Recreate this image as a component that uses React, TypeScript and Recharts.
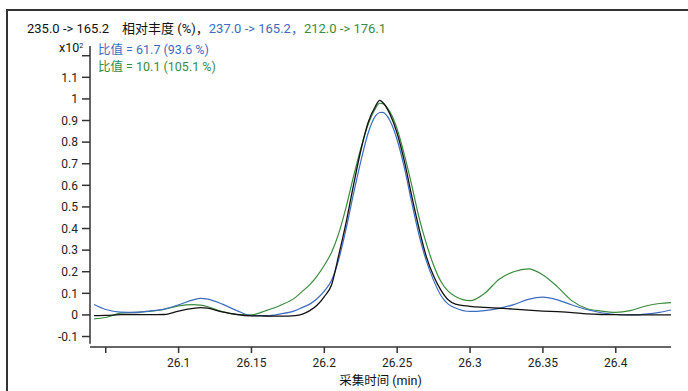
import { LineChart, Line, XAxis, YAxis, ReferenceLine } from 'recharts'

// retention time (min)
const times = [
  26.042, 26.05, 26.06, 26.07, 26.08, 26.09, 26.1, 26.11, 26.115, 26.12, 26.13, 26.14, 26.15,
  26.16, 26.17, 26.18, 26.185, 26.19, 26.195, 26.2, 26.205, 26.21, 26.215, 26.22, 26.225,
  26.23, 26.235, 26.238, 26.24, 26.245, 26.25, 26.255, 26.26, 26.265, 26.27, 26.275, 26.28,
  26.285, 26.29, 26.3, 26.31, 26.32, 26.33, 26.34, 26.35, 26.36, 26.37, 26.38, 26.39, 26.4,
  26.41, 26.42, 26.43, 26.438,
]

// 235.0 -> 165.2 (x10^2)
const quant = [
  -0.003, -0.002, 0.001, 0.002, 0.001, 0.002, 0.018, 0.03, 0.034, 0.031, 0.014, 0.002, -0.004,
  -0.005, -0.006, -0.003, 0.004, 0.02, 0.045, 0.085, 0.14, 0.28, 0.43, 0.6, 0.76,
  0.89, 0.965, 0.993, 0.985, 0.93, 0.84, 0.71, 0.55, 0.4, 0.27, 0.18, 0.115,
  0.07, 0.05, 0.04, 0.035, 0.031, 0.027, 0.022, 0.018, 0.015, 0.011, 0.005, 0.002, 0.001,
  0, 0, 0, 0,
]

// 237.0 -> 165.2
const qual1 = [
  0.048, 0.025, 0.013, 0.012, 0.018, 0.027, 0.047, 0.07, 0.077, 0.073, 0.05, 0.02, -0.003,
  -0.004, 0.005, 0.02, 0.035, 0.05, 0.075, 0.11, 0.16, 0.26, 0.4, 0.56, 0.71,
  0.84, 0.92, 0.937, 0.938, 0.9, 0.81, 0.68, 0.52, 0.37, 0.25, 0.16, 0.09,
  0.05, 0.032, 0.016, 0.02, 0.03, 0.048, 0.072, 0.082, 0.07, 0.046, 0.025, 0.01, 0.002,
  0, 0.004, 0.012, 0.023,
]

// 212.0 -> 176.1
const qual2 = [
  -0.018, -0.012, 0.008, 0.012, 0.016, 0.025, 0.042, 0.048, 0.045, 0.038, 0.015, 0.002, 0,
  0.02, 0.045, 0.08, 0.11, 0.14, 0.18, 0.23, 0.29, 0.38, 0.5, 0.64, 0.77,
  0.88, 0.955, 0.98, 0.978, 0.94, 0.86, 0.74, 0.6, 0.45, 0.33, 0.23, 0.155,
  0.11, 0.085, 0.066, 0.1, 0.165, 0.2, 0.213, 0.185, 0.13, 0.065, 0.03, 0.018, 0.012,
  0.02, 0.04, 0.053, 0.057,
]

const xTicks = [26.05, 26.1, 26.15, 26.2, 26.25, 26.3, 26.35, 26.4]
const yTicks = [-0.1, 0, 0.1, 0.2, 0.3, 0.4, 0.5, 0.6, 0.7, 0.8, 0.9, 1, 1.1, 1.2]

const X_MIN = 26.0392
const X_MAX = 26.4379
const Y_MIN = -0.1485
const Y_MAX = 1.245

const BLUE = '#3d6cc0'
const GREEN = '#3b8a3e'
const font = 'Roboto, "Noto Sans CJK SC", sans-serif'

const data = times.map((t, i) => ({ t, quant: quant[i], qual1: qual1[i], qual2: qual2[i] }))

const tick = { fill: '#222', fontSize: 12, fontFamily: font }

export default function App() {
  return (
    <div style={{ position: 'absolute', left: 0, top: 0, width: 688, height: 391, background: '#fff', fontFamily: font }}>
      <div
        style={{
          position: 'absolute', left: 6, top: 9, width: 682, height: 382,
          borderTop: '2px solid #333', borderLeft: '2px solid #333',
        }}
      />
      <LineChart width={688} height={391} data={data} margin={{ top: 46, right: 17, bottom: 14, left: 8 }}>
        <XAxis
          dataKey="t"
          type="number"
          domain={[X_MIN, X_MAX]}
          ticks={xTicks}
          allowDataOverflow
          height={30}
          tickSize={6}
          tickMargin={5}
          tick={tick}
          stroke="#555"
          axisLine={{ stroke: '#666', strokeWidth: 2 }}
          tickLine={{ stroke: '#333', strokeWidth: 1.5 }}
          tickFormatter={(v: number) => (v === 26.05 ? '' : String(Number(v.toFixed(2))))}
        />
        <YAxis
          type="number"
          domain={[Y_MIN, Y_MAX]}
          ticks={yTicks}
          allowDataOverflow
          width={82}
          tickSize={8}
          tickMargin={4}
          tick={tick}
          axisLine={false}
          tickLine={{ stroke: '#333', strokeWidth: 1.5 }}
          tickFormatter={(v: number) => (v === 1.2 ? '' : String(Number(v.toFixed(1))))}
        />
        <ReferenceLine
          segment={[{ x: X_MIN, y: -0.134 }, { x: X_MIN, y: Y_MAX }]}
          stroke="#666"
          strokeWidth={2}
          ifOverflow="visible"
        />
        <Line type="monotone" dataKey="qual2" stroke={GREEN} strokeWidth={1.2} dot={false} isAnimationActive={false} />
        <Line type="monotone" dataKey="qual1" stroke={BLUE} strokeWidth={1.2} dot={false} isAnimationActive={false} />
        <Line type="monotone" dataKey="quant" stroke="#111" strokeWidth={1.3} dot={false} isAnimationActive={false} />
      </LineChart>
      <div style={{ position: 'absolute', left: 27, top: 21, fontSize: 13, lineHeight: '16px', whiteSpace: 'nowrap', color: '#111' }}>
        235.0 -&gt; 165.2&nbsp;&nbsp;&nbsp; 相对丰度 (%)，<span style={{ color: BLUE }}>237.0 -&gt; 165.2，</span>
        <span style={{ color: GREEN }}>212.0 -&gt; 176.1</span>
      </div>
      <div style={{ position: 'absolute', left: 59, top: 41, fontSize: 12.5, lineHeight: '14px', color: '#111' }}>
        x10<sup style={{ fontSize: 7, verticalAlign: 'top', lineHeight: '10px' }}>2</sup>
      </div>
      <div style={{ position: 'absolute', left: 98, top: 42, fontSize: 12.5, lineHeight: '16.5px', color: BLUE, whiteSpace: 'nowrap' }}>
        <div>比值 = 61.7 (93.6 %)</div>
        <div style={{ color: GREEN }}>比值 = 10.1 (105.1 %)</div>
      </div>
      <div style={{ position: 'absolute', left: 90, width: 581, top: 373, textAlign: 'center', fontSize: 12.5, lineHeight: '16px', color: '#111' }}>
        采集时间 (min)
      </div>
    </div>
  )
}
